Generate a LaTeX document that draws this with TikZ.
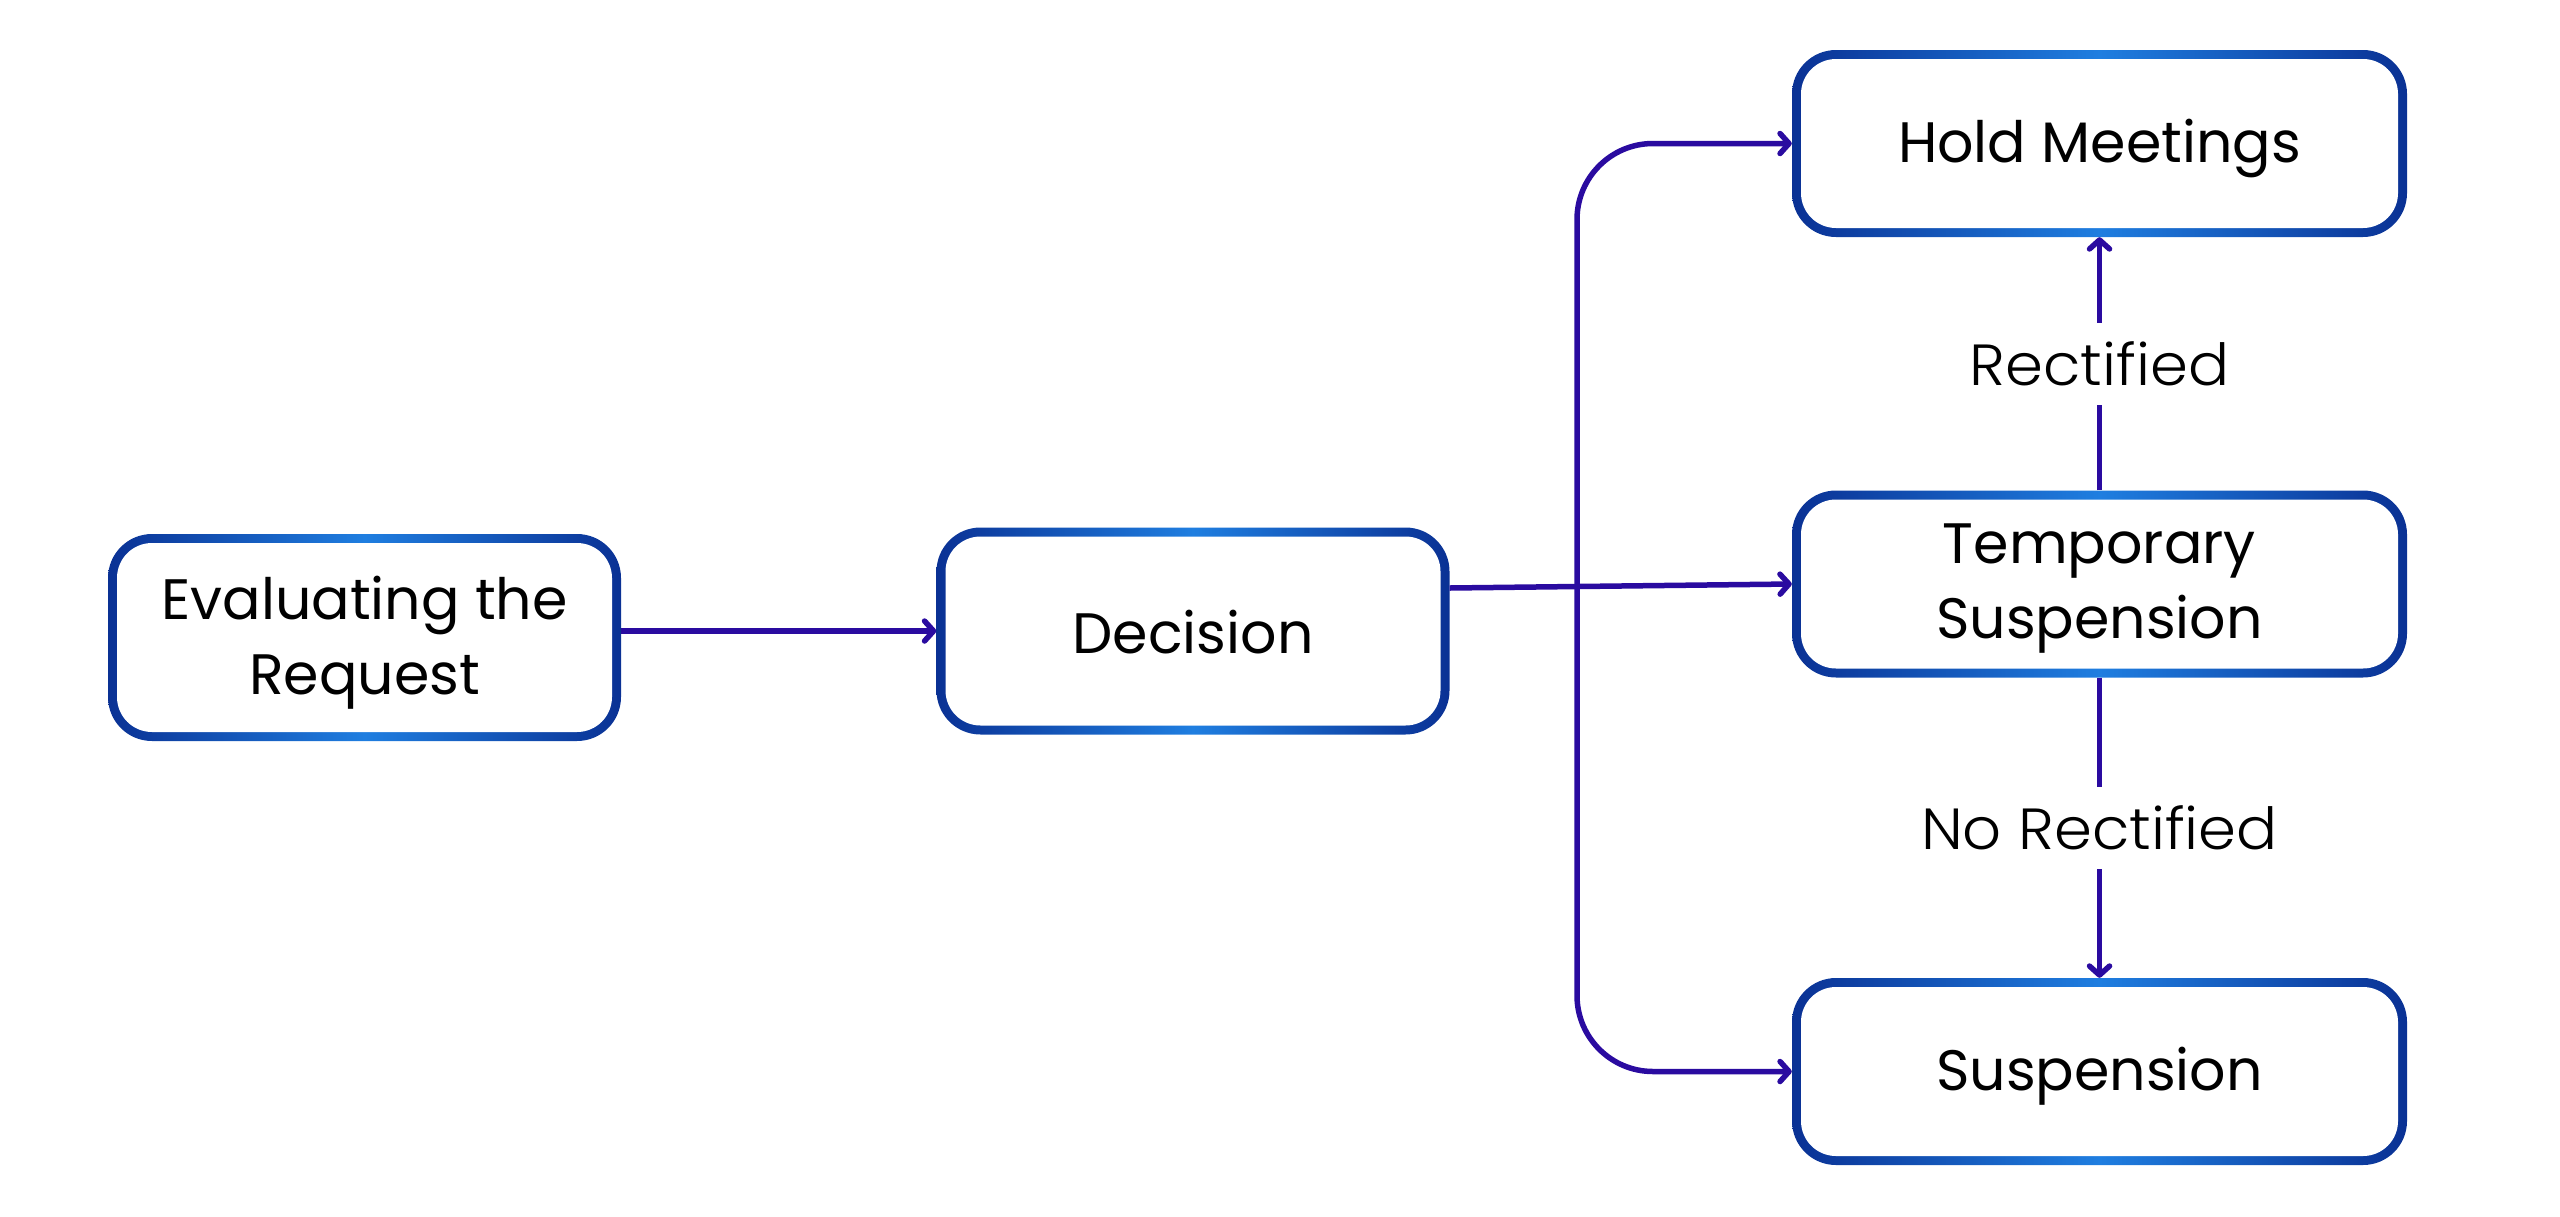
\documentclass[tikz,border=0pt]{standalone}
\usepackage{fontspec}
\setmainfont{Poppins}
\newfontfamily\lightfont{Poppins Light}[FakeStretch=1.05]
\usetikzlibrary{arrows.meta,calc}
\definecolor{bdark}{HTML}{0A3194}
\definecolor{blight}{HTML}{1F7EE0}
\definecolor{conncol}{HTML}{2A0BA0}
\tikzset{
  gbox/.style={rectangle, rounded corners=44pt, inner sep=0pt,
    path picture={
      \shade[left color=bdark, right color=bdark, middle color=blight]
        (path picture bounding box.south west) rectangle (path picture bounding box.north east);
      \fill[white, rounded corners=35pt]
        ($(path picture bounding box.south west)+(9pt,9pt)$) rectangle
        ($(path picture bounding box.north east)+(-9pt,-9pt)$);
    }},
  boxtext/.style={align=center, inner sep=0pt, font=\fontsize{57}{75}\selectfont},
  leftbox/.style={gbox, minimum width=513pt, minimum height=207pt},
  rightbox/.style={gbox, minimum width=615pt, minimum height=187pt},
  conn/.style={draw=conncol, line width=5.5pt,
    -{Straight Barb[length=9pt,width=20pt,round]}},
  lbl/.style={fill=white, inner sep=0pt, minimum height=82pt,
    font=\lightfont\fontsize{58}{70}\selectfont}
}
\begin{document}
\begin{tikzpicture}[x=1pt,y=-1pt]
\useasboundingbox (0,0) rectangle (2560,1216);
\node[leftbox, label={[boxtext, yshift=-5pt]center:Evaluating the\\Request}] (eval) at (364.5,637.5) {};
\node[leftbox, label={[boxtext, yshift=-1pt]center:Decision}] (dec) at (1193,631) {};
\node[rightbox, label={[boxtext, yshift=-5pt]center:Hold Meetings}] (hold) at (2099.5,143.5) {};
\node[rightbox, label={[boxtext, yshift=-5pt]center:Temporary\\Suspension}] (temp) at (2099.5,584) {};
\node[rightbox, label={[boxtext, yshift=-5pt]center:Suspension}] (susp) at (2099.5,1071.5) {};
\coordinate (jx) at (1577,584);
\draw[conn] (eval.east |- dec.west) -- (dec.west);
\draw[conn] ($(dec.east)+(0pt,43pt)$) -- (temp.west);
\draw[conn, {Straight Barb[length=9pt,width=20pt,round]}-{Straight Barb[length=9pt,width=20pt,round]}, rounded corners=76pt]
  (hold.west) -- (hold.west -| jx) -- (susp.west -| jx) -- (susp.west);
\draw[conn] (temp.north) -- (hold.south) node[midway, lbl] {Rectified};
\draw[conn] (temp.south) -- (susp.north) node[midway, lbl] {No Rectified};
\end{tikzpicture}
\end{document}
